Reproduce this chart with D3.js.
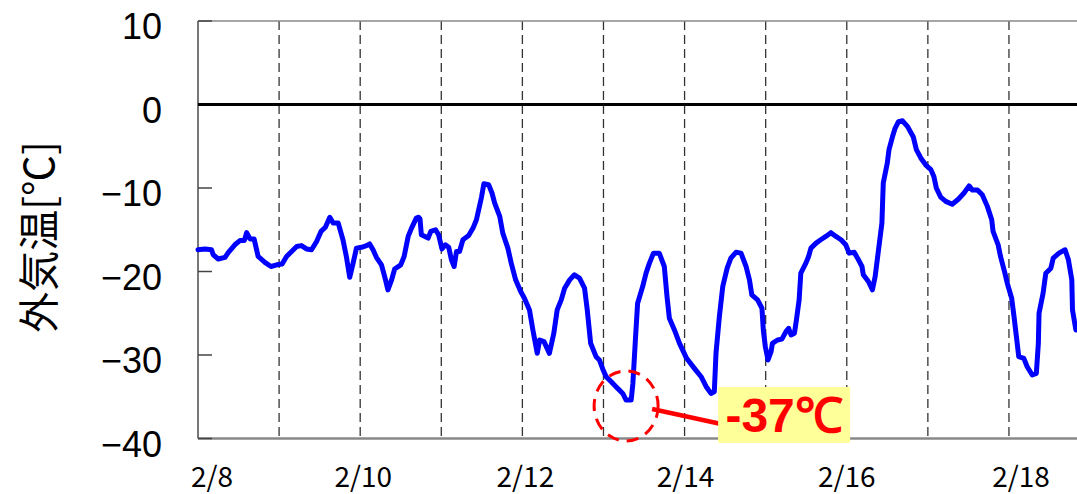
<!DOCTYPE html>
<html>
<head>
<meta charset="utf-8">
<script src="https://cdn.jsdelivr.net/npm/d3@7"></script>
<style>
  body { margin: 0; background: #fff; }
  svg { display: block; }
</style>
</head>
<body>
<script>
var w = 1077
var h = 494

// hours since 2/8 0:00
var hours = [0, 2.1, 4.0, 4.5, 6.0, 8.0, 9.0, 10.9, 12.4, 13.7, 14.4, 15.4, 16.6, 17.8, 19.8, 21.6, 23.3,
  24.9, 26.2, 27.7, 29.2, 30.6, 32.1, 33.6, 35.1, 36.4, 37.7, 39.0, 40.0, 41.5, 42.9, 43.9, 44.9, 45.9, 46.9,
  48.4, 49.9, 50.8, 51.8, 52.8, 54.3, 55.5, 56.2, 57.3, 58.2, 60.0, 61.0, 62.2, 63.2, 64.6, 65.3, 65.7, 66.1,
  68.1, 68.9, 70.3, 71.2, 72.2, 73.2, 74.2, 75.0, 75.8, 76.5, 77.4, 78.4, 80.1, 81.4, 82.4, 83.9, 84.6, 86.0,
  87.0, 87.8, 89.3, 90.2, 91.7, 92.7, 94.0, 95.5, 96.6, 98.1, 99.1, 100.4, 101.1, 102.4, 104.0, 105.3, 106.3,
  107.5, 108.5, 110.0, 111.4, 112.9, 114.4, 115.2, 116.2, 117.8, 118.8, 119.8, 120.8, 122.3, 124.2, 125.7,
  126.7, 128.2, 128.7, 129.5, 130.1, 131.6, 132.6, 133.6, 134.8, 136.5, 138.0, 138.8, 139.5, 141.0, 142.5,
  144.6, 146.9, 148.9, 150.4, 151.8, 152.8, 153.3, 154.3, 155.3, 156.6, 157.7, 159.2, 160.7, 162.2, 163.2,
  163.9, 165.6, 166.9, 167.3, 167.9, 168.7, 169.6, 170.0, 171.5, 172.8, 174.0, 174.8, 175.5, 176.5, 177.1,
  177.9, 178.4, 179.9, 180.7, 181.4, 182.9, 184.3, 185.8, 187.3, 188.8, 190.3, 191.7, 192.7, 194.2, 195.2,
  196.5, 196.9, 198.4, 199.6, 200.4, 201.4, 202.4, 202.8, 204.0, 204.5, 205.5, 206.3, 207.3, 208.5, 210.0,
  211.7, 212.6, 213.9, 215.4, 216.9, 217.8, 218.5, 219.8, 221.3, 223.2, 225.0, 226.7, 228.2, 229.2, 230.7,
  232.1, 233.6, 234.9, 235.3, 236.8, 237.5, 238.8, 239.5, 240.8, 241.5, 242.2, 242.9, 244.4, 245.4, 246.9,
  248.1, 248.7, 248.9, 250.1, 250.9, 252.4, 253.1, 254.8, 256.6, 257.6, 258.6, 258.8, 259.8]

var temps = [-17.4, -17.3, -17.4, -18.0, -18.5, -18.3, -17.7, -16.8, -16.3, -16.3, -15.35, -16.1, -16.1, -18.2, -18.9, -19.4, -19.2,
  -19.1, -18.2, -17.6, -17.0, -16.9, -17.3, -17.4, -16.4, -15.2, -14.7, -13.5, -14.2, -14.2, -16.2, -18.2, -20.7, -19.0, -17.2,
  -17.1, -16.9, -16.7, -17.4, -18.3, -19.2, -21.0, -22.2, -21.0, -19.7, -19.2, -18.2, -15.8, -14.8, -13.6, -13.5, -13.7, -15.6,
  -16.0, -15.2, -15.0, -15.6, -17.3, -16.8, -17.1, -18.6, -19.4, -17.6, -17.6, -16.2, -15.7, -14.8, -13.8, -11.1, -9.5, -9.6,
  -10.6, -11.8, -13.4, -15.4, -17.2, -19.0, -21.0, -22.4, -23.2, -24.6, -27.0, -29.8, -28.2, -28.4, -29.8, -27.4, -24.6,
  -23.4, -22.0, -21.0, -20.4, -20.8, -22.0, -24.6, -28.6, -30.2, -30.6, -31.7, -32.6, -33.2, -34.0, -34.6,
  -35.4, -35.4, -33.4, -27.8, -23.8, -21.8, -20.2, -19.0, -17.8, -17.8, -19.4, -23.0, -25.6, -27.0, -28.6,
  -30.4, -31.6, -32.6, -33.8, -34.6, -34.4, -29.8, -25.4, -21.8, -19.6, -18.4, -17.7, -17.8, -19.4, -21.0,
  -22.8, -23.4, -24.4, -27.0, -29.0, -30.6, -29.6, -28.6, -28.2, -28.1, -27.2, -26.8, -27.6, -27.4, -25.8,
  -23.4, -20.2, -19.0, -18.2, -17.2, -16.6, -16.2, -15.8, -15.35, -15.8, -16.2, -16.8, -17.8, -17.7, -18.4,
  -19.4, -20.4, -21.2, -22.2, -20.6, -17.4, -14.2, -9.4, -7.0, -5.4, -3.9, -2.85, -2.05, -1.95, -2.65,
  -3.9, -5.4, -6.4, -7.25, -7.8, -8.65, -10.0, -11.1, -11.6, -11.95, -11.35, -10.6, -9.75, -10.25, -10.25,
  -10.8, -12.2, -13.8, -15.2, -16.8, -18.2, -20.2, -21.4, -23.2, -25.4, -27.8, -30.2, -30.4, -31.4, -32.4,
  -32.2, -28.6, -25.0, -22.6, -20.2, -19.6, -18.4, -17.8, -17.4, -18.6, -21.0, -24.6, -27.0]

var yTicks = [10, 0, -10, -20, -30, -40]
var dayLines = [24, 48, 72, 96, 120, 144, 168, 192, 216, 240]
var dateLabels = ["2/8", "2/10", "2/12", "2/14", "2/16", "2/18"]
var dateHours = [0, 48, 96, 144, 192, 240]
var labelShift = [14, 3, 3, 1, 0, 12]

var minLabel = "-37℃"
var minHour = 126.7
var minTemp = -36.1

var plotLeft = 198, plotTop = 21, plotBottom = 438.5

var x = d3.scaleLinear().domain([0, 264]).range([plotLeft, plotLeft + 264 * 3.379])
var y = d3.scaleLinear().domain([-40, 10]).range([plotBottom, plotTop])

var svg = d3.select("body")
            .append("svg")
            .attr("width", w)
            .attr("height", h)

// dashed day lines
svg.selectAll(".day")
  .data(dayLines)
  .enter().append("line")
  .attr("x1", function(d) {return x(d)})
  .attr("x2", function(d) {return x(d)})
  .attr("y1", plotTop)
  .attr("y2", plotBottom)
  .attr("stroke", "#333")
  .attr("stroke-width", 1.3)
  .attr("stroke-dasharray", "9,5")

// frame
svg.append("line")
  .attr("x1", plotLeft).attr("x2", w)
  .attr("y1", plotTop).attr("y2", plotTop)
  .attr("stroke", "#888").attr("stroke-width", 1.5)

svg.append("line")
  .attr("x1", plotLeft).attr("x2", w)
  .attr("y1", plotBottom).attr("y2", plotBottom)
  .attr("stroke", "#888").attr("stroke-width", 2.5)

svg.append("line")
  .attr("x1", plotLeft).attr("x2", plotLeft)
  .attr("y1", plotTop).attr("y2", plotBottom)
  .attr("stroke", "#777").attr("stroke-width", 2)

// y ticks (inside)
svg.selectAll(".ytick")
  .data(yTicks)
  .enter().append("line")
  .attr("x1", plotLeft)
  .attr("x2", plotLeft + 14)
  .attr("y1", function(d) {return y(d)})
  .attr("y2", function(d) {return y(d)})
  .attr("stroke", "#444")
  .attr("stroke-width", 1.5)

// zero line
svg.append("line")
  .attr("x1", plotLeft).attr("x2", w)
  .attr("y1", y(0)).attr("y2", y(0))
  .attr("stroke", "#000").attr("stroke-width", 3)

svg.selectAll(".ylab")
  .data(yTicks)
  .enter().append("text")
  .text(function(d) {return d < 0 ? "\u2212" + Math.abs(d) : d})
  .attr("x", 162)
  .attr("y", function(d) {return y(d) + 18})
  .attr("text-anchor", "end")
  .attr("font-family", "Liberation Sans, Arial, sans-serif")
  .attr("font-size", "36px")
  .attr("fill", "#000")

svg.selectAll(".xlab")
  .data(dateLabels)
  .enter().append("text")
  .text(function(d) {return d})
  .attr("x", function(d, i) {return x(dateHours[i]) + labelShift[i]})
  .attr("y", 487)
  .attr("text-anchor", "middle")
  .attr("font-family", "Noto Sans CJK JP, sans-serif")
  .attr("font-size", "28px")
  .attr("fill", "#000")

svg.append("text")
  .text("外気温[℃]")
  .attr("transform", "translate(36,237) rotate(-90)")
  .attr("text-anchor", "middle")
  .attr("dominant-baseline", "central")
  .attr("font-family", "Noto Sans CJK JP, sans-serif")
  .attr("font-size", "41px")
  .attr("fill", "#000")

// temperature line
var points = hours.map(function(d, i) {return [d, temps[i]]})

var line = d3.line()
  .x(function(d) {return x(d[0])})
  .y(function(d) {return y(d[1])})

svg.append("path")
  .datum(points)
  .attr("d", line)
  .attr("fill", "none")
  .attr("stroke", "#0000ff")
  .attr("stroke-width", 5)
  .attr("stroke-linejoin", "round")
  .attr("stroke-linecap", "round")

// minimum annotation
var cx = x(minHour), cy = y(minTemp)

svg.append("line")
  .attr("x1", cx + 26).attr("y1", cy + 3)
  .attr("x2", cx + 95).attr("y2", cy + 18)
  .attr("stroke", "#ff0000").attr("stroke-width", 4.5)

svg.append("ellipse")
  .attr("cx", cx).attr("cy", cy)
  .attr("rx", 32).attr("ry", 35)
  .attr("fill", "none")
  .attr("stroke", "#ff0000")
  .attr("stroke-width", 3)
  .attr("stroke-dasharray", "12,8")

svg.append("rect")
  .attr("x", cx + 92).attr("y", cy - 19)
  .attr("width", 132).attr("height", 56)
  .attr("fill", "#ffff99")

svg.append("text")
  .text(minLabel)
  .attr("x", cx + 158).attr("y", cy + 26)
  .attr("text-anchor", "middle")
  .attr("font-family", "Liberation Sans, Arial, sans-serif")
  .attr("font-weight", "bold")
  .attr("font-size", "48px")
  .attr("fill", "#ff0000")
</script>
</body>
</html>
